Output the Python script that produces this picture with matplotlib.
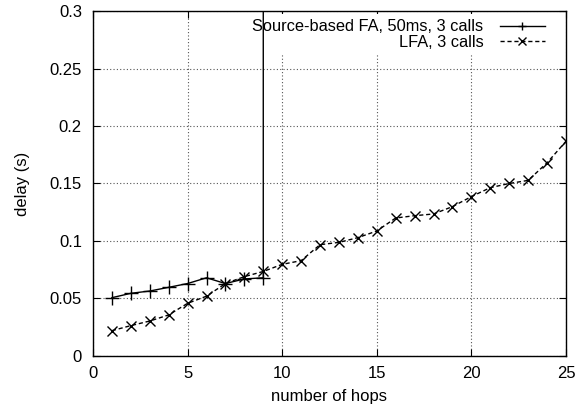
import matplotlib
matplotlib.use("Agg")
import matplotlib.pyplot as plt

plt.rcParams['font.family'] = ['Liberation Sans', 'DejaVu Sans']

sb_hops = [1, 2, 3, 4, 5, 6, 7, 8, 9, 9]
sb_delay = [0.0507, 0.0545, 0.0565, 0.0597, 0.063, 0.068, 0.063, 0.067, 0.068, 1.0]

lfa_hops = list(range(1, 26))
lfa_delay = [0.022, 0.0264, 0.0304, 0.0357, 0.0458, 0.052, 0.063, 0.069, 0.0735,
             0.0797, 0.0829, 0.0968, 0.0988, 0.1029, 0.1087, 0.120, 0.122, 0.1235,
             0.1299, 0.1386, 0.1464, 0.150, 0.1527, 0.168, 0.1867]

xticks = [0, 5, 10, 15, 20, 25]
yticks = [0, 0.05, 0.1, 0.15, 0.2, 0.25, 0.3]
ytick_labels = ['0', '0.05', '0.1', '0.15', '0.2', '0.25', '0.3']

fig = plt.figure(figsize=(5.78, 4.08), dpi=100)
ax = fig.add_axes([0.1609, 0.1275, 0.9792 - 0.1609, 0.973 - 0.1275])

ax.plot(sb_hops, sb_delay, color='black', lw=1.0, marker='+', ms=10, mew=1.0,
        label='Source-based FA, 50ms, 3 calls', zorder=3)
ax.plot(lfa_hops, lfa_delay, color='black', lw=1.0, ls=(0, (3, 2)), marker='x', ms=7,
        mew=1.0, label='LFA, 3 calls', zorder=3)

ax.set_xlim(0, 25)
ax.set_ylim(0, 0.3)
ax.set_xticks(xticks)
ax.set_yticks(yticks)
ax.set_yticklabels(ytick_labels)
ax.tick_params(direction='in', top=True, right=True, labelsize=12, length=5, width=0.8)
ax.tick_params(axis='y', pad=8)
ax.tick_params(axis='x', pad=7)
ax.grid(True, color='#555555', ls=(0, (1, 2)), lw=0.8)
ax.set_axisbelow(True)
for s in ax.spines.values():
    s.set_linewidth(1.0)

ax.set_xlabel('number of hops', fontsize=12, labelpad=6)
ax.set_ylabel('delay (s)', fontsize=12, labelpad=14)

leg = ax.legend(loc='upper right', bbox_to_anchor=(0.966, 0.990), markerfirst=False,
                frameon=True, fontsize=11.8, numpoints=1,
                handlelength=2.75, borderpad=0.3, labelspacing=0.05, handletextpad=1.0,
                borderaxespad=0.0)
leg.get_frame().set_edgecolor('none')
leg.get_frame().set_facecolor('white')
leg.get_frame().set_alpha(1)
leg.get_frame().set_boxstyle('square', pad=0)
for t in leg.get_texts():
    t.set_ha('right')
for h in leg.legend_handles:
    h.set_markersize(6)
leg.set_zorder(2)

fig.savefig('out.png', dpi=100)
